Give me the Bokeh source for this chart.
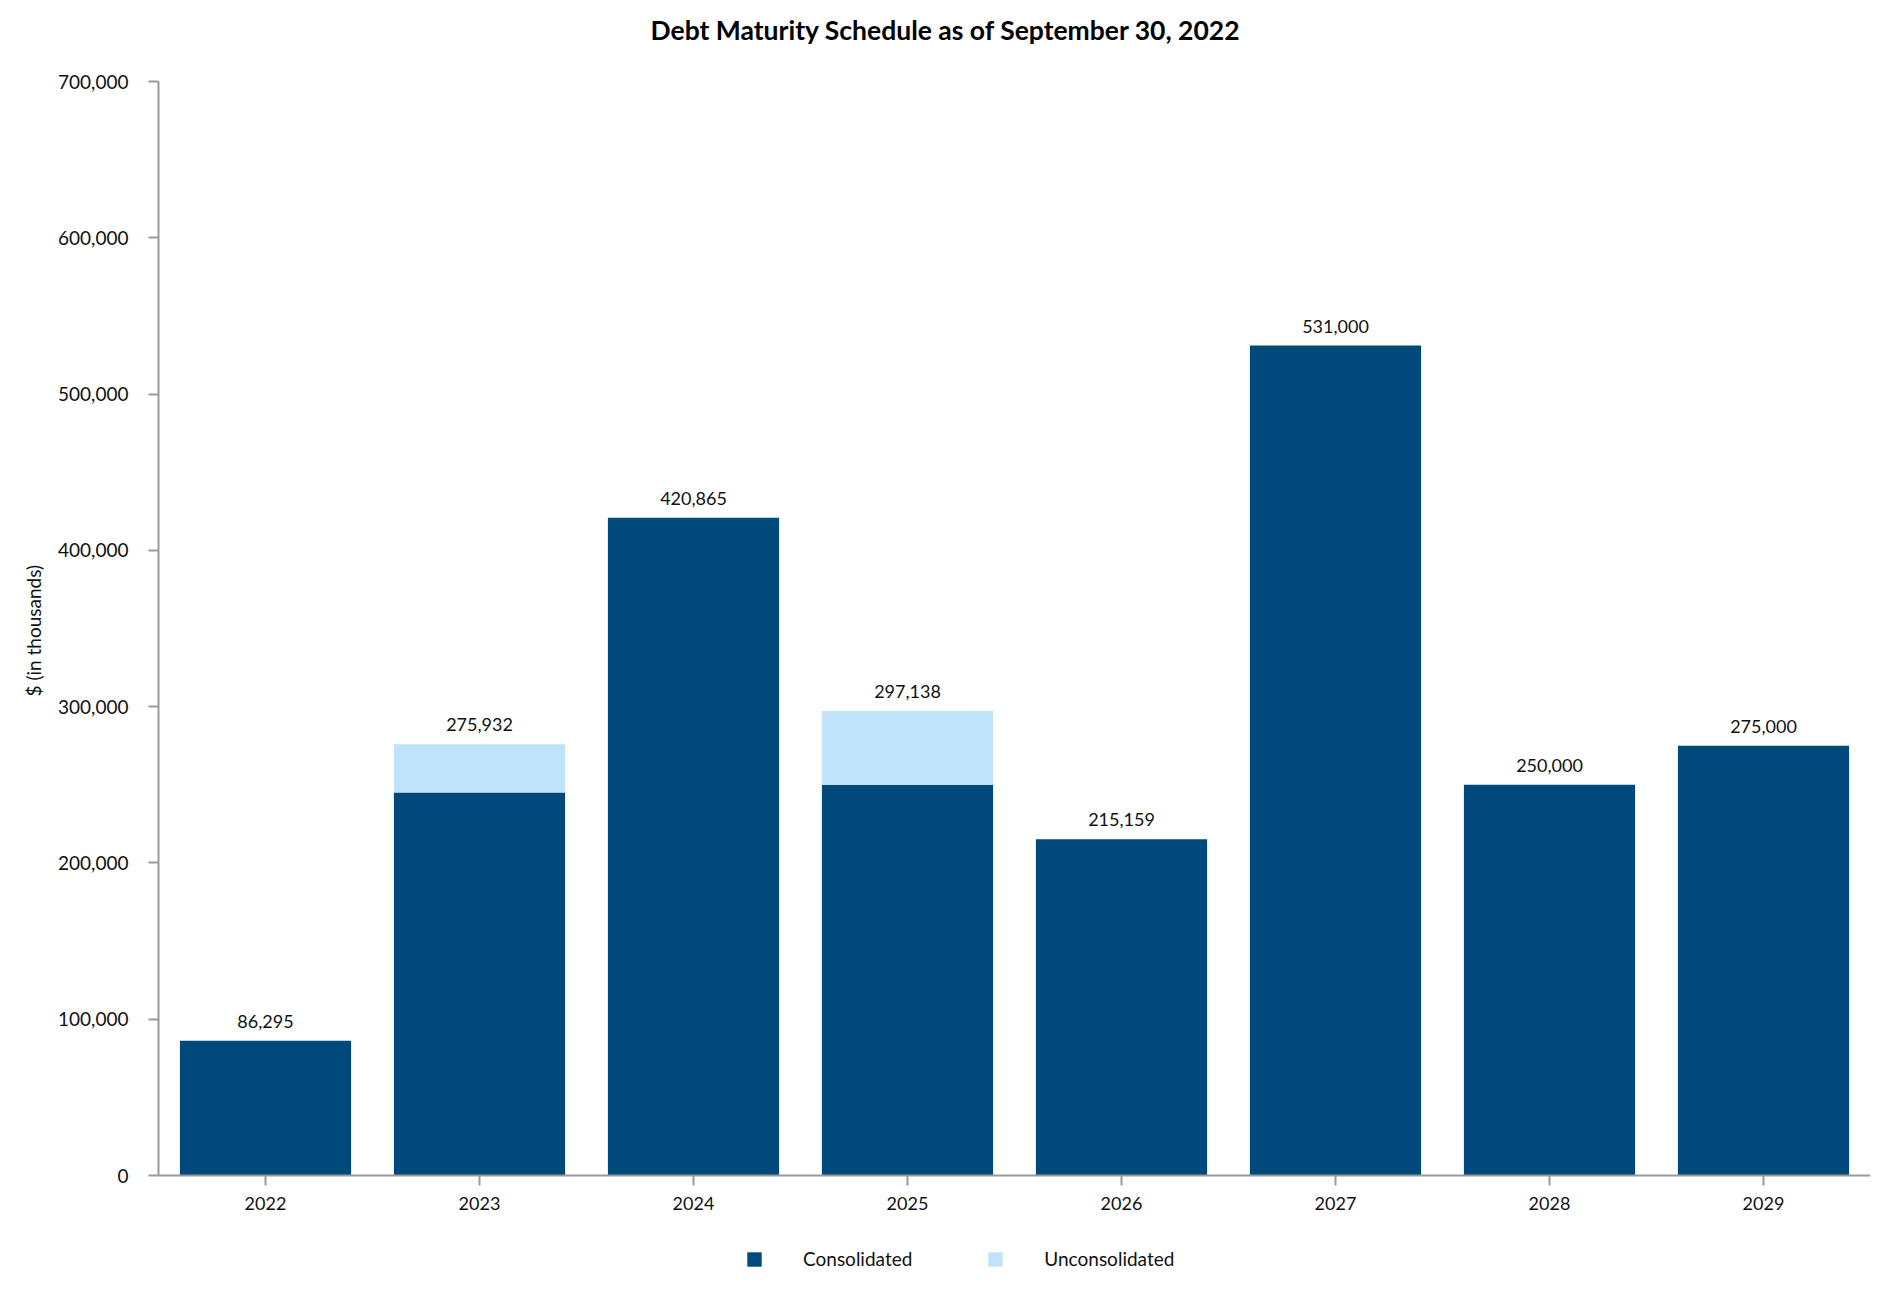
from bokeh.plotting import figure
from bokeh.models import (ColumnDataSource, FactorRange, Range1d, FixedTicker,
                          NumeralTickFormatter, Legend, LegendItem, LabelSet, Title)
from bokeh.core.properties import value
from bokeh.embed import file_html
from bokeh.resources import INLINE

years = ["2022", "2023", "2024", "2025", "2026", "2027", "2028", "2029"]
consolidated = [86295, 245000, 420865, 250000, 215159, 531000, 250000, 275000]
unconsolidated = [0, 30932, 0, 47138, 0, 0, 0, 0]
totals = [c + u for c, u in zip(consolidated, unconsolidated)]
total_labels = ["{:,}".format(t) for t in totals]
y_ticks = [0, 100000, 200000, 300000, 400000, 500000, 600000, 700000]

DARK = "#00497C"
LIGHT = "#BFE3FB"
AXIS = "#9A9A9A"
FONT = "Lato"

# frame geometry: 700,000 at 81px, 0 at 1175px, frame runs to the bottom of the canvas
H = 1292
TOP = 81
ZERO_PX = 1175
y_max = 700000
y_min = -y_max * (H - ZERO_PX) / (ZERO_PX - TOP)

source = ColumnDataSource(dict(year=years, consolidated=consolidated,
                               unconsolidated=unconsolidated, total=totals,
                               label=total_labels))

p = figure(width=1874, height=H, output_backend="svg", toolbar_location=None,
           x_range=FactorRange(factors=years), y_range=Range1d(y_min, y_max),
           min_border_left=158, min_border_right=4, min_border_top=TOP,
           min_border_bottom=0)
p.outline_line_color = None
p.xgrid.grid_line_color = None
p.ygrid.grid_line_color = None

# spacer between the frame and the main title
p.add_layout(Title(text=" ", text_font_size="1px", standoff=33), "above")

p.title.text = "Debt Maturity Schedule as of September 30, 2022"
p.title.text_font = FONT
p.title.text_font_size = "26.5px"
p.title.text_font_style = "bold"
p.title.text_color = "#000000"
p.title.align = "left"
p.title.offset = 492
p.title.standoff = 0

rs = p.vbar_stack(["consolidated", "unconsolidated"], x="year", width=0.8,
                  source=source, color=[DARK, LIGHT], line_color=None)

labels = LabelSet(x="year", y="total", text="label", source=source,
                  text_align="center", text_baseline="bottom", y_offset=13,
                  text_font=value(FONT), text_font_size=value("18px"),
                  text_color="#111111")
p.add_layout(labels)

for ax in (p.xaxis[0], p.yaxis[0]):
    ax.axis_line_color = AXIS
    ax.axis_line_width = 2
    ax.major_tick_line_color = AXIS
    ax.major_tick_line_width = 2
    ax.major_tick_out = 10
    ax.major_tick_in = 0
    ax.minor_tick_line_color = None
    ax.major_label_text_font = FONT
    ax.major_label_text_color = "#111111"

p.xaxis.fixed_location = 0
p.xaxis.major_label_text_font_size = "18px"
p.xaxis.major_label_standoff = 11
p.yaxis.major_label_text_font_size = "19px"
p.yaxis.major_label_standoff = 20
p.yaxis.bounds = (0, y_max)
p.yaxis.ticker = FixedTicker(ticks=y_ticks)
p.yaxis.formatter = NumeralTickFormatter(format="0,0")

# y axis label, centred on the 0..700,000 span
p.add_layout(Title(text="$ (in thousands)", text_font=FONT, text_font_size="19px",
                   text_font_style="normal", text_color="#111111",
                   align="left", offset=596, standoff=21), "left")

legend = Legend(items=[LegendItem(label="Consolidated", renderers=[rs[0]]),
                       LegendItem(label="Unconsolidated", renderers=[rs[1]])],
                orientation="horizontal", location=(587, 22),
                glyph_width=18, glyph_height=18, label_standoff=40, spacing=74,
                padding=0, margin=0, border_line_color=None,
                background_fill_alpha=0, label_text_font=FONT,
                label_text_font_size="19px", label_text_color="#111111")
p.add_layout(legend, "center")

open("out.html", "w").write(file_html(p, INLINE))
